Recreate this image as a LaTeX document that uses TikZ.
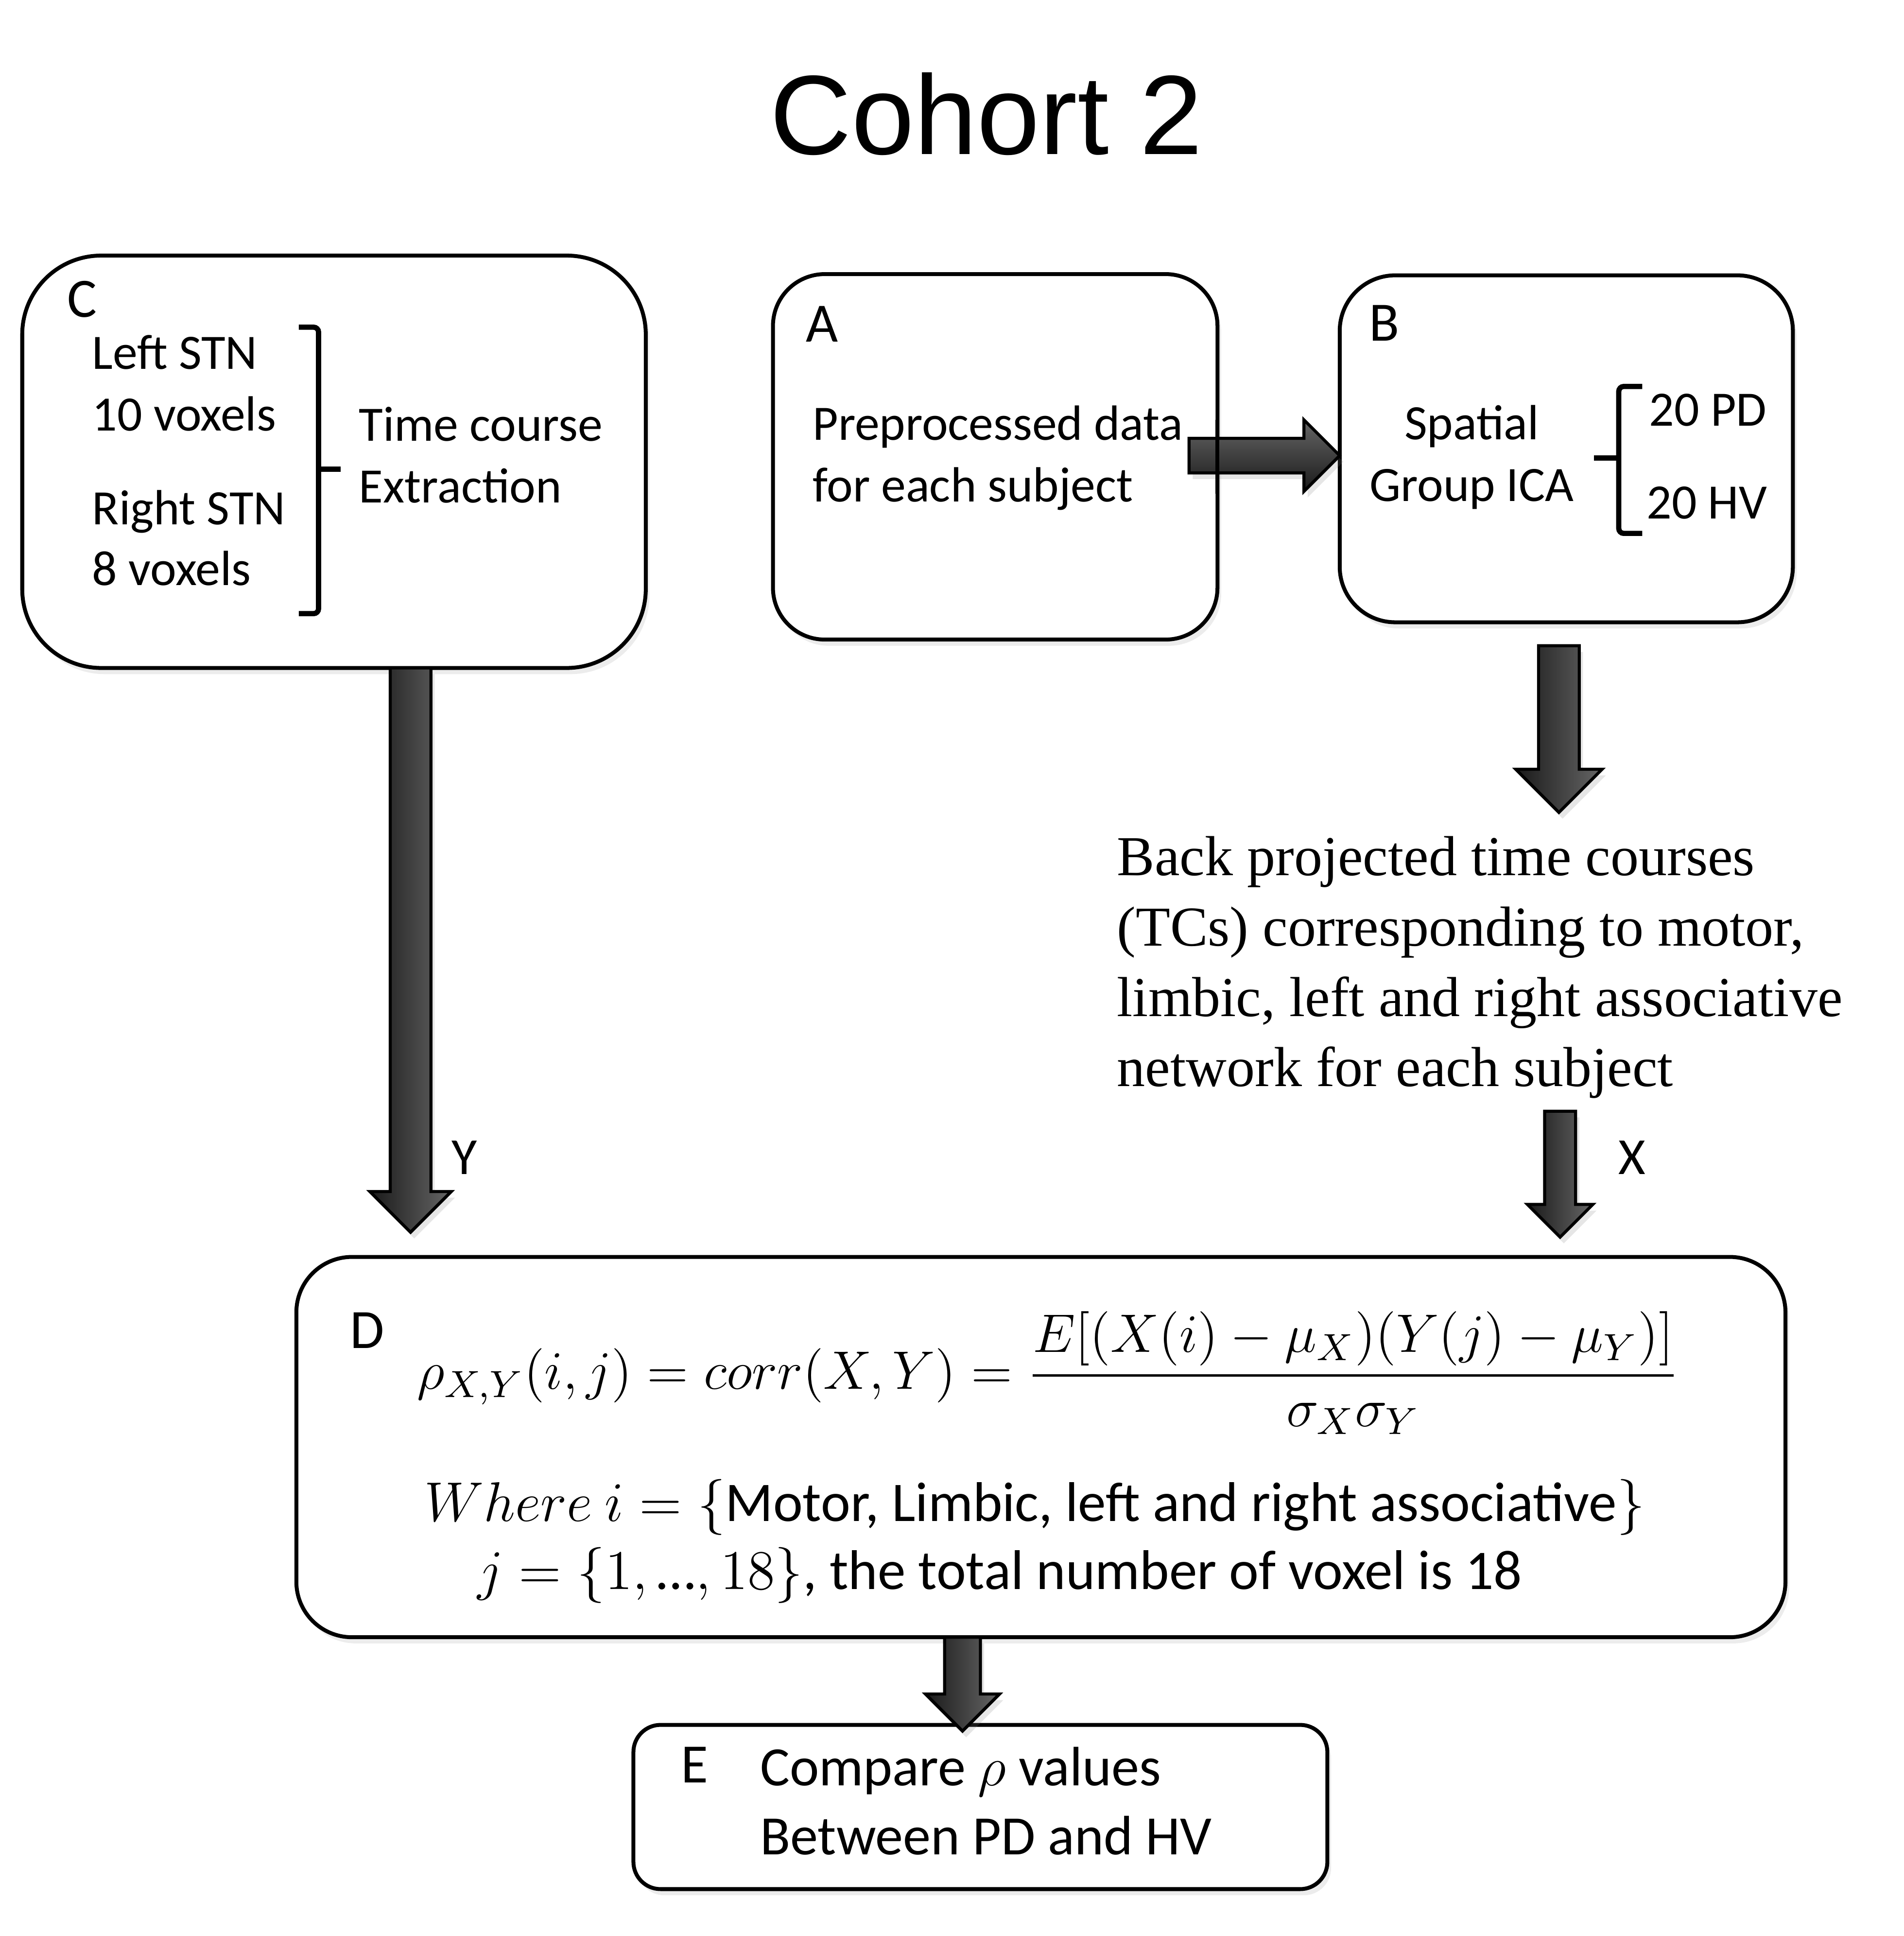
\RequirePackage{fix-cm}
\documentclass[tikz,border=0pt]{standalone}
\usepackage{amsmath}
\usepackage{fontspec}
\setmainfont{Carlito}
\newfontfamily\serifbp{Liberation Serif}
\newfontfamily\titlefam{Liberation Sans}
\usetikzlibrary{calc,shadows}

\newcommand{\fatarrow}[5][]{%
  \path[fatarrow,#1] let \p1=#2, \p2=#3, \n1={veclen(\x2-\x1,\y2-\y1)}, \n2={atan2(\y2-\y1,\x2-\x1)} in
    ($(\p1)+(\n2+90:#4)$) -- ++(\n2:\n1-#5) -- ++(\n2+90:#5-#4) -- (\p2)
    -- ++(\n2-135:1.41421*#5) -- ++(\n2+90:#5-#4) -- ++(\n2+180:\n1-#5) -- cycle;}

\begin{document}
\begin{tikzpicture}[
  box/.style={draw=black, line width=0.9pt, fill=white, rounded corners=#1, inner sep=0pt, outer sep=0pt,
    drop shadow={opacity=0.15, shadow xshift=0.03cm, shadow yshift=-0.05cm}},
  fatarrow/.style={draw=black, line width=0.7pt, line join=miter,
    drop shadow={opacity=0.2, shadow xshift=0.03cm, shadow yshift=-0.05cm}},
  harrow/.style={top color=black!60, bottom color=black!90},
  varrow/.style={left color=black!90, right color=black!60},
  bracket/.style={line width=1.2pt, rounded corners=0.04cm},
  bodytext/.style={anchor=base west, inner sep=0pt, font=\fontsize{11.4}{14}\selectfont},
  labeltext/.style={anchor=base west, inner sep=0pt, font=\fontsize{12.8}{15}\selectfont},
  serifline/.style={anchor=base west, inner sep=0pt, font=\serifbp\fontsize{13}{15}\selectfont}
  ]
        \useasboundingbox (0,0) rectangle (15.42,-15.68);
        \node[anchor=base, inner sep=0pt, font=\titlefam\fontsize{26}{30}\selectfont] (title) at (7.99,-1.25) {Cohort 2};

        \node[box=0.64cm, minimum width=5.05cm, minimum height=3.34cm] (C) at (2.705,-3.74) {};
        \node[box=0.42cm, minimum width=3.60cm, minimum height=2.96cm] (A) at (8.06,-3.70) {};
        \node[box=0.45cm, minimum width=3.67cm, minimum height=2.81cm] (B) at (12.685,-3.635) {};
        \node[box=0.45cm, minimum width=12.06cm, minimum height=3.08cm] (D) at (8.43,-11.72) {};
        \node[box=0.22cm, minimum width=5.62cm, minimum height=1.33cm] (E) at (7.94,-14.635) {};

        \node[labeltext] (Clabel) at (0.54,-2.57) {C};
        \node[bodytext] (left1) at (0.74,-2.99) {Left STN};
        \node[bodytext] (left2) at (0.74,-3.49) {10 voxels};
        \node[bodytext] (right1) at (0.74,-4.25) {Right STN};
        \node[bodytext] (right2) at (0.74,-4.74) {8 voxels};
        \draw[bracket] (2.42,-2.65) -- (2.58,-2.65) -- (2.58,-4.97) -- (2.42,-4.97);
        \draw[bracket] (2.58,-3.80) -- (2.76,-3.80);
        \node[bodytext] (tc1) at (2.90,-3.57) {Time course};
        \node[bodytext] (tc2) at (2.90,-4.07) {Extraction};

        \node[labeltext] (Alabel) at (6.52,-2.77) {A};
        \node[bodytext] (pre1) at (6.575,-3.565) {Preprocessed data};
        \node[bodytext] (pre2) at (6.575,-4.065) {for each subject};

        \node[labeltext] (Blabel) at (11.08,-2.76) {B};
        \node[bodytext, anchor=base] (ica1) at (11.92,-3.56) {Spatial};
        \node[bodytext, anchor=base] (ica2) at (11.92,-4.06) {Group ICA};
        \draw[bracket] (13.30,-3.13) -- (13.11,-3.13) -- (13.11,-4.32) -- (13.30,-4.32);
        \draw[bracket] (13.11,-3.71) -- (12.91,-3.71);
        \node[bodytext] (pd) at (13.35,-3.45) {20 PD};
        \node[bodytext] (hv) at (13.33,-4.20) {20 HV};

        \node[serifline] (bp1) at (9.04,-7.09) {Back projected time courses};
        \node[serifline] (bp2) at (9.04,-7.66) {(TCs) corresponding to motor,};
        \node[serifline] (bp3) at (9.04,-8.23) {limbic, left and right associative};
        \node[serifline] (bp4) at (9.04,-8.80) {network for each subject};

        \node[labeltext] (Dlabel) at (2.83,-10.92) {D};
        \node[labeltext, font=\fontsize{12.5}{15}\selectfont] (corr) at (3.37,-11.25)
          {$\rho_{X,Y}(i,j)=corr(X,Y)=\dfrac{E[(X(i)-\mu_X)(Y(j)-\mu_Y)]}{\sigma_X\sigma_Y}$};
        \node[labeltext, font=\fontsize{12.9}{15}\selectfont] (where1) at (3.43,-12.32)
          {$Where\ i=\{$Motor, Limbic, left and right associative$\}$};
        \node[labeltext, font=\fontsize{12.9}{15}\selectfont] (where2) at (3.86,-12.87)
          {$j=\{1,\text{…},18\}$, the total number of voxel is 18};

        \node[labeltext] (Elabel) at (5.51,-14.44) {E};
        \node[labeltext] (cmp1) at (6.15,-14.46) {Compare $\rho$ values};
        \node[labeltext] (cmp2) at (6.15,-15.02) {Between PD and HV};

        \coordinate (ABtail) at ($(A.east)+(-0.23,0.01)$);
        \coordinate (ABtip) at (ABtail -| B.west);
        \coordinate (Btail) at ($(B.south)+(-0.06,-0.19)$);
        \coordinate (Btip) at ($(Btail)+(0,-1.35)$);
        \coordinate (Xtip) at ($(Btail |- D.north)+(0.01,0.16)$);
        \coordinate (Xtail) at ($(Xtip)+(0,1.02)$);
        \coordinate (Ytail) at ($(C.south)+(0.62,0)$);
        \coordinate (Ytip) at ($(Ytail |- D.north)+(0,0.2)$);
        \coordinate (DEtail) at ($(D.south)+(-0.635,0)$);
        \coordinate (DEtip) at ($(DEtail |- E.north)+(0,-0.05)$);

        \fatarrow[harrow]{(ABtail)}{(ABtip)}{0.14cm}{0.29cm}
        \draw[line width=0.9pt] ($(A.east)+(0,0.3)$) -- ($(A.east)+(0,-0.3)$);
        \fatarrow[varrow]{(Btail)}{(Btip)}{0.165cm}{0.35cm}
        \fatarrow[varrow]{(Xtail)}{(Xtip)}{0.125cm}{0.265cm}
        \fatarrow[varrow]{(Ytail)}{(Ytip)}{0.165cm}{0.33cm}
        \fatarrow[varrow]{(DEtail)}{(DEtip)}{0.145cm}{0.30cm}

        \node[labeltext, font=\fontsize{12}{14}\selectfont] (Xlabel) at (13.10,-9.51) {X};
        \node[labeltext, font=\fontsize{12}{14}\selectfont] (Ylabel) at (3.65,-9.51) {Y};
        \end{tikzpicture}
\end{document}
